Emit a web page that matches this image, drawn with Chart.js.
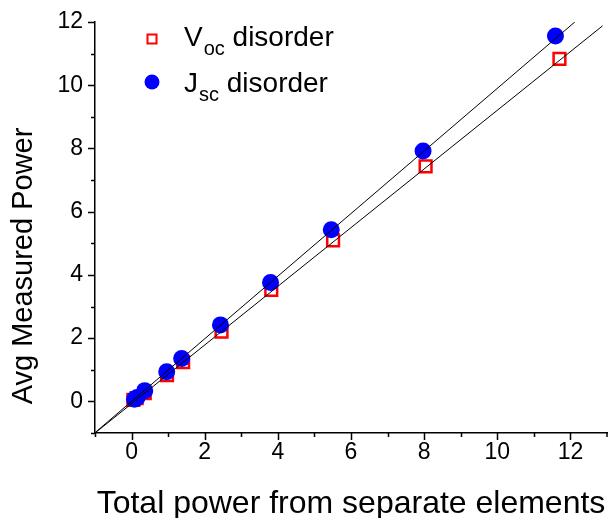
<!DOCTYPE html>
<html>
<head>
<meta charset="utf-8">
<script src="https://cdn.jsdelivr.net/npm/chart.js@4.4.1/dist/chart.umd.min.js"></script>
<style>
  html, body { margin: 0; padding: 0; background: #fff; }
  #wrap { position: relative; width: 608px; height: 518px; }
</style>
</head>
<body>
<div id="wrap"><canvas id="c" width="608" height="518"></canvas></div>
<script>
// data
const jscX = [0.08, 0.15, 0.36, 0.96, 1.37, 2.43, 3.80, 5.46, 7.97, 11.59];
const jscY = [0.07, 0.12, 0.34, 0.94, 1.36, 2.42, 3.76, 5.43, 7.92, 11.56];
const vocX = [0.05, 0.14, 0.36, 0.97, 1.41, 2.46, 3.82, 5.51, 8.04, 11.70];
const vocY = [0.05, 0.10, 0.26, 0.83, 1.24, 2.21, 3.53, 5.09, 7.43, 10.83];

// linear fit lines (end points)
const jscFitX = [-1, 12.12];
const jscFitY = [-0.99, 12.0];
const vocFitX = [-1, 12.88];
const vocFitY = [-1.0, 11.88];

const xTickLabels = [0, 2, 4, 6, 8, 10, 12];
const yTickLabels = [0, 2, 4, 6, 8, 10, 12];

const FONT = '"Liberation Sans", Arial, sans-serif';

const pts = (xs, ys) => xs.map((x, i) => ({ x, y: ys[i] }));

// drop the extra room chart.js keeps for edge labels, the plot fills its box
function noEdgePad(s) {
    s.paddingTop = 0; s.paddingBottom = 0; s.paddingLeft = 0; s.paddingRight = 0;
}

// minor/major tick marks + y title + legend with subscripts
const decor = {
    id: 'decor',
    afterDraw(chart) {
        const ctx = chart.ctx;
        const xs = chart.scales.x, ys = chart.scales.y;
        const area = chart.chartArea;
        ctx.save();
        ctx.strokeStyle = '#000';
        ctx.lineWidth = 1.5;
        ctx.beginPath();
        for (let v = xs.min; v <= xs.max; v++) {
            const px = Math.min(Math.round(xs.getPixelForValue(v)) + 0.5, area.right);
            const len = v % 2 === 0 ? 7 : 4;
            ctx.moveTo(px, area.bottom);
            ctx.lineTo(px, area.bottom + len);
        }
        for (let v = ys.min; v <= ys.max; v++) {
            const py = Math.round(ys.getPixelForValue(v)) + 0.5;
            const len = v % 2 === 0 ? 7 : 4;
            ctx.moveTo(area.left, py);
            ctx.lineTo(area.left - len, py);
        }
        ctx.stroke();

        // y axis title
        ctx.fillStyle = '#000';
        ctx.font = '29px ' + FONT;
        ctx.textAlign = 'center';
        ctx.textBaseline = 'middle';
        ctx.translate(24, 266);
        ctx.rotate(-Math.PI / 2);
        ctx.fillText('Avg Measured Power', 0, 0);
        ctx.restore();

        // legend
        ctx.save();
        ctx.strokeStyle = '#ff0000';
        ctx.lineWidth = 2;
        ctx.strokeRect(147.5, 34.5, 9, 9);
        ctx.fillStyle = '#0000ff';
        ctx.beginPath();
        ctx.arc(152, 82, 7.5, 0, Math.PI * 2);
        ctx.fill();

        ctx.fillStyle = '#000';
        ctx.textAlign = 'left';
        ctx.textBaseline = 'alphabetic';
        const row = (main, sub, rest, y) => {
            let x = 184;
            ctx.font = '28px ' + FONT;
            ctx.fillText(main, x, y);
            x += ctx.measureText(main).width + 1;
            ctx.font = '20px ' + FONT;
            ctx.fillText(sub, x, y + 9);
            x += ctx.measureText(sub).width;
            ctx.font = '28px ' + FONT;
            ctx.fillText(rest, x, y);
        };
        row('V', 'oc', ' disorder', 46);
        row('J', 'sc', ' disorder', 92);
        ctx.restore();
    }
};

new Chart(document.getElementById('c'), {
    type: 'scatter',
    data: {
        datasets: [
            { type: 'line', data: pts(jscFitX, jscFitY), borderColor: '#000', borderWidth: 1,
              pointRadius: 0, fill: false, order: 0 },
            { type: 'line', data: pts(vocFitX, vocFitY), borderColor: '#000', borderWidth: 1,
              pointRadius: 0, fill: false, order: 0 },
            { label: 'Jsc disorder', data: pts(jscX, jscY), pointStyle: 'circle', pointRadius: 8.5,
              backgroundColor: '#0000ff', borderColor: '#0000ff', borderWidth: 0, order: 1 },
            { label: 'Voc disorder', data: pts(vocX, vocY), pointStyle: 'rect', pointRadius: 8.3,
              backgroundColor: 'rgba(0,0,0,0)', borderColor: '#ff0000', borderWidth: 2.5, order: 2 }
        ]
    },
    options: {
        responsive: false,
        animation: false,
        layout: { autoPadding: false, padding: { top: 22, right: 1, left: 0, bottom: 0 } },
        plugins: { legend: { display: false }, tooltip: { enabled: false } },
        scales: {
            x: {
                type: 'linear', min: -1, max: 13,
                grid: { display: false, drawTicks: false },
                border: { display: true, color: '#000', width: 1.5 },
                ticks: { stepSize: 1, autoSkip: false, maxRotation: 0, padding: 6, color: '#000',
                         font: { family: FONT, size: 23 },
                         callback: v => xTickLabels.includes(v) ? String(v) : '' },
                title: { display: true, text: 'Total power from separate elements', color: '#000',
                         font: { family: FONT, size: 32, lineHeight: 1 }, padding: { top: 0, bottom: -2 } },
                afterFit: s => { s.height = 85; noEdgePad(s); }
            },
            y: {
                type: 'linear', min: -1, max: 12,
                grid: { display: false, drawTicks: false },
                border: { display: true, color: '#000', width: 1.5 },
                ticks: { stepSize: 1, autoSkip: false, padding: 12, color: '#000',
                         font: { family: FONT, size: 23 },
                         callback: v => yTickLabels.includes(v) ? String(v) : '' },
                afterFit: s => { s.width = 95; noEdgePad(s); }
            }
        }
    },
    plugins: [decor]
});
</script>
</body>
</html>
